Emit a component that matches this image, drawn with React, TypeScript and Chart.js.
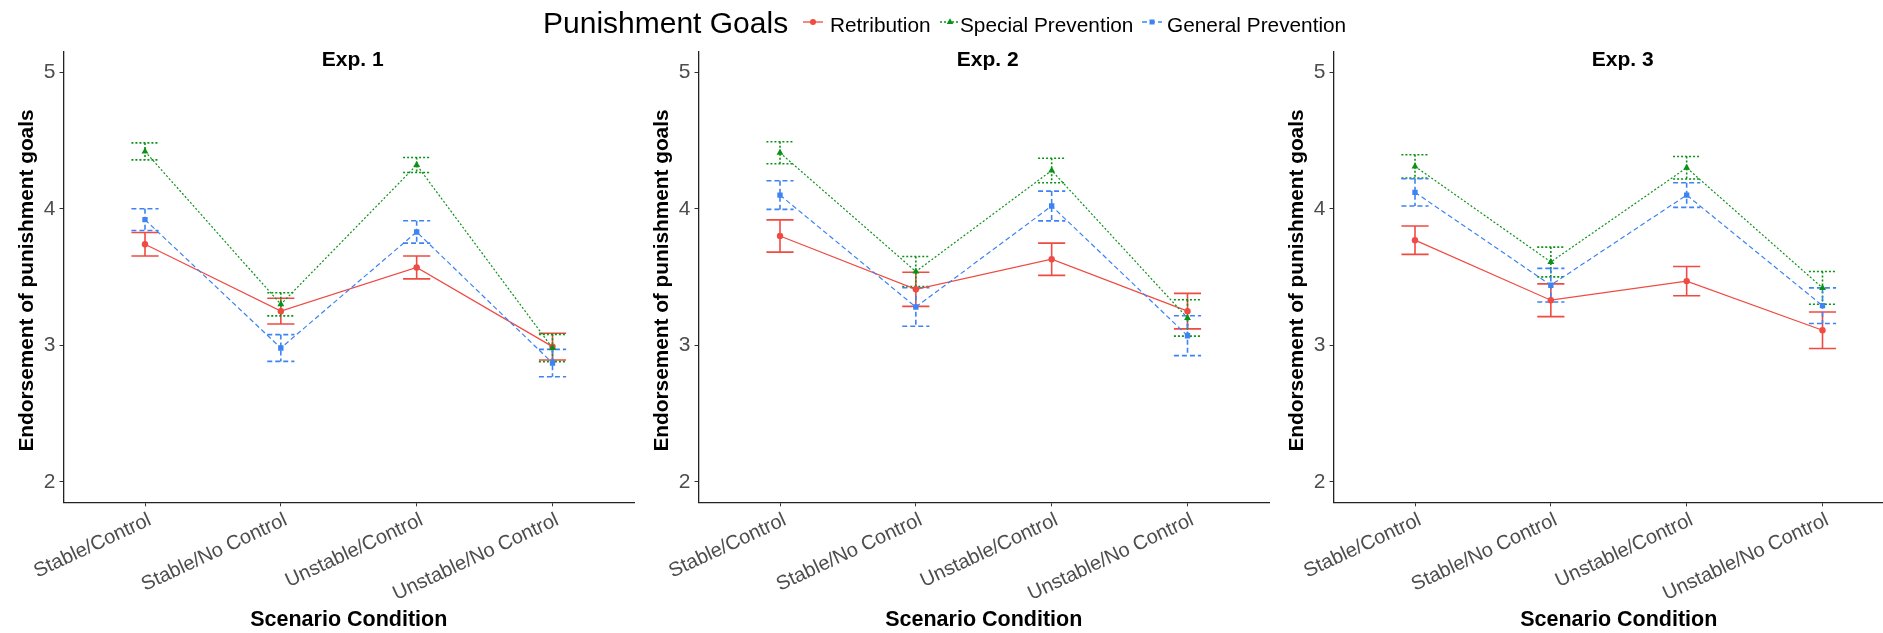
import React, { useEffect, useRef } from "react";
import { Chart, registerables } from "chart.js";

Chart.register(...registerables);

// Scenario conditions on the x axis
const categories = ["Stable/Control", "Stable/No Control", "Unstable/Control", "Unstable/No Control"];
const xPositions = [1, 2, 3, 4];
const yTickValues = [2, 3, 4, 5];
const experiments = ["Exp. 1", "Exp. 2", "Exp. 3"];
const goals = ["Retribution", "Special Prevention", "General Prevention"];
const yAxisTitle = "Endorsement of punishment goals";
const xAxisTitle = "Scenario Condition";
const legendTitle = "Punishment Goals";

// Exp. 1: mean endorsement and standard error per condition
const exp1Retribution = [3.74, 3.25, 3.57, 2.99];
const exp1RetributionSE = [0.086, 0.094, 0.084, 0.098];
const exp1Special = [4.42, 3.3, 4.32, 2.98];
const exp1SpecialSE = [0.062, 0.085, 0.055, 0.1];
const exp1General = [3.92, 2.98, 3.83, 2.87];
const exp1GeneralSE = [0.08, 0.098, 0.082, 0.1];

// Exp. 2
const exp2Retribution = [3.8, 3.41, 3.63, 3.25];
const exp2RetributionSE = [0.118, 0.125, 0.118, 0.13];
const exp2Special = [4.41, 3.54, 4.28, 3.2];
const exp2SpecialSE = [0.081, 0.11, 0.09, 0.133];
const exp2General = [4.1, 3.28, 4.02, 3.07];
const exp2GeneralSE = [0.105, 0.141, 0.109, 0.146];

// Exp. 3
const exp3Retribution = [3.77, 3.33, 3.47, 3.11];
const exp3RetributionSE = [0.104, 0.12, 0.107, 0.134];
const exp3Special = [4.31, 3.61, 4.3, 3.42];
const exp3SpecialSE = [0.085, 0.109, 0.082, 0.12];
const exp3General = [4.12, 3.44, 4.1, 3.29];
const exp3GeneralSE = [0.1, 0.123, 0.09, 0.13];

const panelMeans = [
  [exp1Retribution, exp1Special, exp1General],
  [exp2Retribution, exp2Special, exp2General],
  [exp3Retribution, exp3Special, exp3General],
];
const panelSE = [
  [exp1RetributionSE, exp1SpecialSE, exp1GeneralSE],
  [exp2RetributionSE, exp2SpecialSE, exp2GeneralSE],
  [exp3RetributionSE, exp3SpecialSE, exp3GeneralSE],
];

const goalColors = ["#EF4B43", "#0A9216", "#3D84F2"];
const goalDashes: number[][] = [[], [2, 2], [5, 3]];
const goalShapes = ["circle", "triangle", "rect"];
const goalRadii = [3.2, 4, 3.8];

const FONT = "'Liberation Sans', Arial, Helvetica, sans-serif";
const PANEL_STEP = 635;
const PANEL_W = 640;
const H = 633;

// Draws mean ± SE whiskers with caps, in each series' colour and line type
const errorBarPlugin = {
  id: "errorBars",
  beforeDatasetsDraw(chart: any, _args: any, opts: any) {
    const { ctx } = chart;
    const xs = chart.scales.x;
    const ys = chart.scales.y;
    const se: number[][] = opts.se || [];
    chart.data.datasets.forEach((ds: any, i: number) => {
      if (!se[i]) return;
      ctx.save();
      ctx.strokeStyle = ds.borderColor;
      ctx.lineWidth = 1.6;
      ctx.setLineDash(ds.borderDash || []);
      ds.data.forEach((pt: any, j: number) => {
        const px = xs.getPixelForValue(pt.x);
        const x0 = xs.getPixelForValue(pt.x - 0.1);
        const x1 = xs.getPixelForValue(pt.x + 0.1);
        const hi = ys.getPixelForValue(pt.y + se[i][j]);
        const lo = ys.getPixelForValue(pt.y - se[i][j]);
        ctx.beginPath();
        ctx.moveTo(x0, hi);
        ctx.lineTo(x1, hi);
        ctx.moveTo(px, hi);
        ctx.lineTo(px, lo);
        ctx.moveTo(x0, lo);
        ctx.lineTo(x1, lo);
        ctx.stroke();
      });
      ctx.restore();
    });
  },
};

// Panel heading inside the top of the plotting region, plus the rotated y-axis title
const panelTextPlugin = {
  id: "panelText",
  afterDraw(chart: any, _args: any, opts: any) {
    const { ctx, chartArea } = chart;
    ctx.save();
    ctx.font = `bold 21px ${FONT}`;
    ctx.fillStyle = "#000";
    ctx.textAlign = "center";
    ctx.textBaseline = "alphabetic";
    ctx.fillText(opts.title, (chartArea.left + chartArea.right) / 2 + 4, 66);
    ctx.translate(27, (chartArea.top + chartArea.bottom) / 2 + 3.5);
    ctx.rotate(-Math.PI / 2);
    ctx.font = `bold 20.8px ${FONT}`;
    ctx.textBaseline = "middle";
    ctx.fillText(opts.yTitle, 0, 0);
    ctx.restore();
  },
};

function Panel({ index }: { index: number }) {
  const ref = useRef<HTMLCanvasElement | null>(null);
  useEffect(() => {
    if (!ref.current) return;
    const means = panelMeans[index];
    const chart = new Chart(ref.current, {
      type: "scatter",
      data: {
        datasets: goals.map((g, s) => ({
          label: g,
          data: means[s].map((v, j) => ({ x: xPositions[j], y: v })),
          showLine: true,
          borderColor: goalColors[s],
          backgroundColor: goalColors[s],
          borderWidth: 1.2,
          borderDash: goalDashes[s],
          pointStyle: goalShapes[s] as any,
          pointRadius: goalRadii[s],
          pointBorderWidth: 0,
          pointHoverRadius: goalRadii[s],
          order: 2 - s,
        })),
      },
      options: {
        animation: false,
        responsive: false,
        devicePixelRatio: 1,
        events: [],
        layout: { padding: { top: 51.7, right: 6, bottom: 0, left: 0 } },
        plugins: {
          legend: { display: false },
          tooltip: { enabled: false },
          errorBars: { se: panelSE[index] },
          panelText: { title: experiments[index], yTitle: yAxisTitle },
        } as any,
        scales: {
          x: {
            type: "linear",
            min: 0.4,
            max: 4.6,
            offset: false,
            afterBuildTicks: (s: any) => {
              s.ticks = xPositions.map((v) => ({ value: v }));
            },
            afterFit: (s: any) => {
              s.height = 130.7;
            },
            ticks: {
              autoSkip: false,
              minRotation: 25,
              maxRotation: 25,
              padding: 2,
              labelOffset: 5,
              color: "#4D4D4D",
              font: { family: FONT, size: 20 },
              callback: (v: any) => categories[Math.round(v) - 1] ?? "",
            },
            grid: { drawOnChartArea: false, drawTicks: true, tickLength: 4, color: "#333" },
            border: { display: true, color: "#222", width: 1.3 },
            title: {
              display: true,
              text: xAxisTitle,
              color: "#000",
              font: { family: FONT, size: 21.5, weight: "bold" },
              padding: { top: 0, bottom: 0 },
            },
          },
          y: {
            type: "linear",
            min: 1.85,
            max: 5.15,
            afterBuildTicks: (s: any) => {
              s.ticks = yTickValues.map((v) => ({ value: v }));
            },
            afterFit: (s: any) => {
              s.width = 63.5;
            },
            ticks: {
              padding: 4,
              color: "#4D4D4D",
              font: { family: FONT, size: 21 },
              callback: (v: any) => String(v),
            },
            grid: { drawOnChartArea: false, drawTicks: true, tickLength: 4, color: "#333" },
            border: { display: true, color: "#222", width: 1.3 },
            title: { display: false },
          },
        },
      },
      plugins: [errorBarPlugin, panelTextPlugin],
    } as any);
    return () => chart.destroy();
  }, [index]);
  return (
    <canvas
      ref={ref}
      width={PANEL_W}
      height={H}
      style={{ position: "absolute", left: index * PANEL_STEP, top: 0, width: PANEL_W, height: H, display: "block" }}
    />
  );
}

// Legend key: a short line segment in the series' line type with its marker in the middle
function LegendKey({ s }: { s: number }) {
  const c = goalColors[s];
  const dash = goalDashes[s].join(" ");
  let marker: React.ReactNode;
  if (goalShapes[s] === "circle") marker = <circle cx={10} cy={6} r={3} fill={c} />;
  else if (goalShapes[s] === "triangle") marker = <polygon points="10,2.2 13.3,8 6.7,8" fill={c} />;
  else marker = <rect x={7.5} y={3.5} width={5} height={5} fill={c} />;
  return (
    <svg width={20} height={12} style={{ display: "block" }}>
      <line x1={0} y1={6} x2={20} y2={6} stroke={c} strokeWidth={1.3} strokeDasharray={dash || undefined} />
      {marker}
    </svg>
  );
}

const legendKeyX = [803, 940, 1142];
const legendLabelX = [830, 960, 1167];

export default function App() {
  return (
    <div
      style={{
        position: "fixed",
        left: 0,
        top: 0,
        width: 1883,
        height: H,
        overflow: "hidden",
        background: "#fff",
        fontFamily: FONT,
      }}
    >
      {experiments.map((_, i) => (
        <Panel key={i} index={i} />
      ))}
      <div
        style={{ position: "absolute", left: 543, top: 5.2, fontSize: 30, lineHeight: "36px", color: "#000", whiteSpace: "nowrap" }}
      >
        {legendTitle}
      </div>
      {goals.map((g, s) => (
        <React.Fragment key={g}>
          <div style={{ position: "absolute", left: legendKeyX[s], top: 16 }}>
            <LegendKey s={s} />
          </div>
          <div
            style={{
              position: "absolute",
              left: legendLabelX[s],
              top: 11.5,
              fontSize: 20.8,
              lineHeight: "26px",
              color: "#000",
              whiteSpace: "nowrap",
            }}
          >
            {g}
          </div>
        </React.Fragment>
      ))}
    </div>
  );
}
